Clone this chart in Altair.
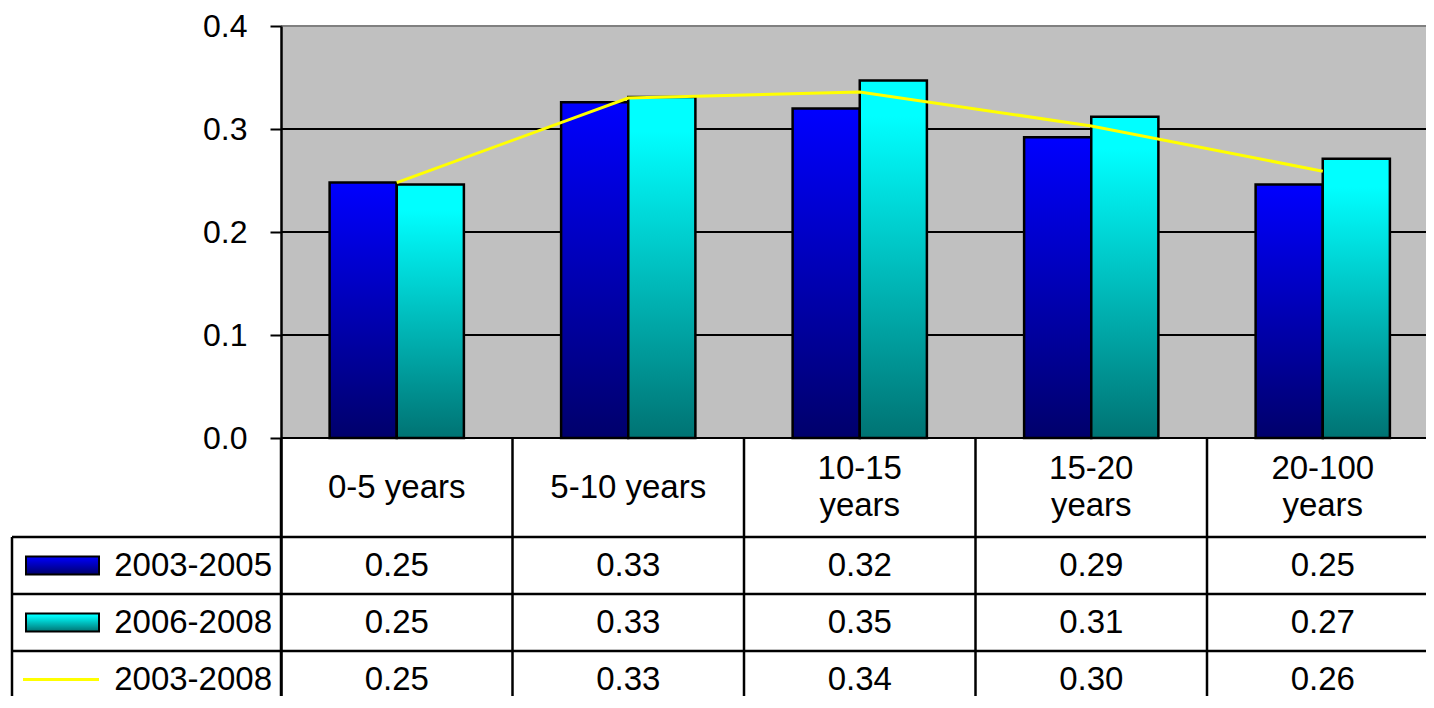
import altair as alt
import pandas as pd

# ---------------- data ----------------
categories = ["0-5 years", "5-10 years", "10-15 years", "15-20 years", "20-100 years"]
header_labels = ["0-5 years", "5-10 years", "10-15\nyears", "15-20\nyears", "20-100\nyears"]
series_names = ["2003-2005", "2006-2008", "2003-2008"]
v_2003_2005 = [0.248, 0.326, 0.320, 0.292, 0.246]
v_2006_2008 = [0.246, 0.331, 0.347, 0.312, 0.271]
v_2003_2008 = [0.248, 0.330, 0.336, 0.303, 0.259]
y_ticks = [0.0, 0.1, 0.2, 0.3, 0.4]

# ---------------- layout ----------------
FONT = "Liberation Sans"
FS = 33
LH = 37
W = 1145            # visible plot width (the plot runs on past the right edge)
CAT_W = 231.5       # width of one category column
PLOT_H = 412        # pixels from 0.0 to 0.4
H = 670             # whole drawing height (plot + data table, cropped)
PAD_L, PAD_T = 273, 18
YMAX = y_ticks[-1]
PX = PLOT_H / YMAX
YMIN = YMAX - H / PX
LW = 2.5

HEADER_PX = 99
ROW_PX = 57
LEG_LEFT = -269


def below(px):
    """value on the y scale that lies px pixels below the 0.0 line"""
    return -px / PX


row_tops = [HEADER_PX + i * ROW_PX for i in range(3)]
row_centers = [below(t + ROW_PX / 2) for t in row_tops]

xscale = alt.Scale(domain=categories, paddingInner=0, paddingOuter=0,
                   range=[0, CAT_W * len(categories)])
yscale = alt.Scale(domain=[YMIN, YMAX], nice=False, zero=False)
off_scale = alt.Scale(domain=series_names[:2], paddingInner=0, paddingOuter=0.724)

blue_grad = alt.Gradient(gradient="linear", x1=0, y1=0, x2=0, y2=1,
                         stops=[alt.GradientStop(color="#0000FF", offset=0),
                                alt.GradientStop(color="#00006B", offset=1)])
cyan_grad = alt.Gradient(gradient="linear", x1=0, y1=0, x2=0, y2=1,
                         stops=[alt.GradientStop(color="#00FFFF", offset=0),
                                alt.GradientStop(color="#00FFFF", offset=0.1),
                                alt.GradientStop(color="#007373", offset=1)])
grads = [blue_grad, cyan_grad]
series_vals = [v_2003_2005, v_2006_2008, v_2003_2008]

yaxis = alt.Axis(values=y_ticks, format=".1f", title=None, grid=False,
                 labelFont=FONT, labelFontSize=FS - 1, labelColor="black",
                 labelPadding=23, tickSize=11, tickWidth=2, tickColor="black",
                 domainColor="black", domainWidth=LW, zindex=1)

# plot background
bg = alt.Chart(pd.DataFrame({"lo": [y_ticks[0]], "hi": [y_ticks[-1]]})).mark_rect(
    color="#C0C0C0").encode(
    x=alt.value(0), x2=alt.value("width"),
    y=alt.Y("lo:Q", scale=yscale, axis=yaxis), y2="hi:Q")

grid = alt.Chart(pd.DataFrame({"v": y_ticks[:-1]})).mark_rule(
    color="black", strokeWidth=2).encode(
    y=alt.Y("v:Q", scale=yscale), x=alt.value(0), x2=alt.value("width"))

top_line = alt.Chart(pd.DataFrame({"v": y_ticks[-1:]})).mark_rule(
    color="#808080", strokeWidth=2).encode(
    y=alt.Y("v:Q", scale=yscale), x=alt.value(0), x2=alt.value("width"))

bar_layers = []
for i in range(2):
    df = pd.DataFrame({"category": categories, "series": series_names[i],
                       "value": series_vals[i]})
    bar_layers.append(
        alt.Chart(df).mark_bar(color=grads[i], stroke="black", strokeWidth=LW).encode(
            x=alt.X("category:N", scale=xscale, axis=None, sort=categories),
            xOffset=alt.XOffset("series:N", scale=off_scale, sort=series_names[:2]),
            y=alt.Y("value:Q", scale=yscale, stack=None)))

line_df = pd.DataFrame({"category": categories, "value": v_2003_2008})
line = alt.Chart(line_df).mark_line(color="#FFFF00", strokeWidth=3).encode(
    x=alt.X("category:N", scale=xscale, axis=None, sort=categories),
    y=alt.Y("value:Q", scale=yscale))

# ---------------- data table ----------------
vlines = alt.Chart(pd.DataFrame({"category": categories, "top": 0.0, "bottom": YMIN})).mark_rule(
    color="black", strokeWidth=LW).encode(
    x=alt.X("category:N", scale=xscale, axis=None, sort=categories, bandPosition=0),
    y=alt.Y("top:Q", scale=yscale), y2="bottom:Q")

leg_vline = alt.Chart(pd.DataFrame({"top": [below(row_tops[0])], "bottom": [YMIN]})).mark_rule(
    color="black", strokeWidth=LW).encode(
    x=alt.value(LEG_LEFT), y=alt.Y("top:Q", scale=yscale), y2="bottom:Q")

hlines = alt.Chart(pd.DataFrame({"v": [below(t) for t in row_tops]})).mark_rule(
    color="black", strokeWidth=LW).encode(
    x=alt.value(LEG_LEFT), x2=alt.value("width"), y=alt.Y("v:Q", scale=yscale))

head_ty = [below(HEADER_PX / 2 - lab.count("\n") * LH / 2) for lab in header_labels]
head_df = pd.DataFrame({"category": categories, "label": header_labels, "ty": head_ty})
header = alt.Chart(head_df).mark_text(
    font=FONT, fontSize=FS, lineBreak="\n", lineHeight=LH, color="black",
    align="center", baseline="middle").encode(
    x=alt.X("category:N", scale=xscale, axis=None, sort=categories),
    y=alt.Y("ty:Q", scale=yscale), text="label:N")

rows = []
for i, s in enumerate(series_names):
    for c, v in zip(categories, series_vals[i]):
        rows.append({"category": c, "series": s, "value": v, "ty": row_centers[i]})
val_df = pd.DataFrame(rows)
values = alt.Chart(val_df).mark_text(
    font=FONT, fontSize=FS, color="black", align="center", baseline="middle").encode(
    x=alt.X("category:N", scale=xscale, axis=None, sort=categories),
    y=alt.Y("ty:Q", scale=yscale), text=alt.Text("value:Q", format=".2f"))

lab_df = pd.DataFrame({"series": series_names, "ty": row_centers})
row_labels = alt.Chart(lab_df).mark_text(
    font=FONT, fontSize=FS, color="black", align="right", baseline="middle").encode(
    x=alt.value(-9), y=alt.Y("ty:Q", scale=yscale), text="series:N")

half = 9 / PX
swatches = []
for i in range(2):
    sdf = pd.DataFrame({"a": [row_centers[i] + half], "b": [row_centers[i] - half]})
    swatches.append(alt.Chart(sdf).mark_rect(color=grads[i], stroke="black", strokeWidth=2).encode(
        x=alt.value(-255), x2=alt.value(-182), y=alt.Y("a:Q", scale=yscale), y2="b:Q"))
line_sw = alt.Chart(pd.DataFrame({"v": [row_centers[2]]})).mark_rule(
    color="#FFFF00", strokeWidth=3).encode(
    x=alt.value(-258), x2=alt.value(-182), y=alt.Y("v:Q", scale=yscale))

chart = alt.layer(bg, grid, top_line, *bar_layers, line, vlines, leg_vline, hlines,
                  header, values, row_labels, *swatches, line_sw).properties(
    width=W, height=H,
    autosize=alt.AutoSizeParams(type="none"),
    padding={"left": PAD_L, "top": PAD_T, "right": 0, "bottom": 0},
    background="white",
).configure_view(stroke=None)

chart.save("out.html", embed_options={"renderer": "svg", "actions": False})
